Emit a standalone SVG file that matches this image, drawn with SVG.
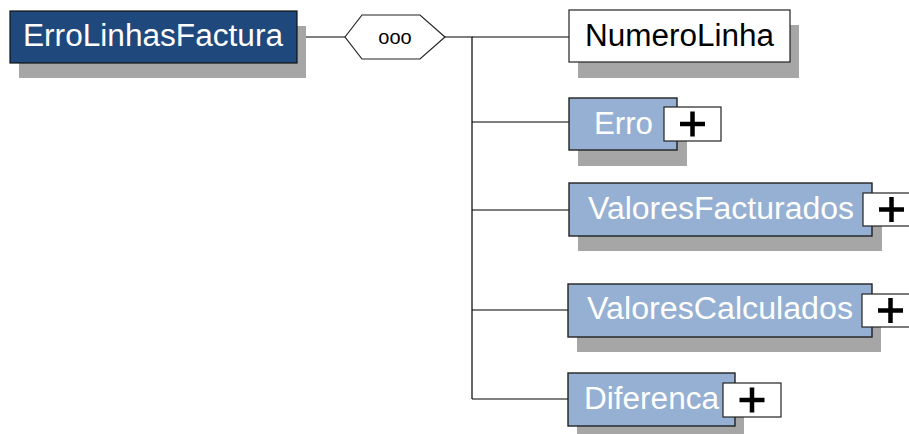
<svg xmlns="http://www.w3.org/2000/svg" width="909" height="434" viewBox="0 0 909 434">
<style>
.shadow{fill:#a6a6a6}
.root{fill:#1f487c;stroke:#111;stroke-width:1.2}
.opt{fill:#fff;stroke:#222;stroke-width:1.2}
.cx{fill:#95b0d2;stroke:#222;stroke-width:1.4}
.plusbox{fill:#fff;stroke:#222;stroke-width:1.2}
.plus{stroke:#000;stroke-width:4.5;fill:none}
.lbl{font-family:"Liberation Sans",Arial,sans-serif;font-size:31px}
.w{fill:#fff}
.k{fill:#000}
.conn{stroke:#000;stroke-width:1.2;fill:none}
</style>
<g id="connectors">
<path class="conn" d="M297 37H345"/>
<path class="conn" d="M445 37H472V399"/>
<path class="conn" d="M472 37H569"/>
<path class="conn" d="M472 122H569"/>
<path class="conn" d="M472 210H569"/>
<path class="conn" d="M472 310H568"/>
<path class="conn" d="M472 399H568"/>
</g>
<g id="ErroLinhasFactura">
<rect class="shadow" x="19" y="26" width="287" height="52"/>
<rect class="root" x="10" y="11" width="287" height="52"/>
<text class="lbl w" x="23" y="46" textLength="260" lengthAdjust="spacingAndGlyphs">ErroLinhasFactura</text>
</g>
<g id="sequence">
<polygon class="opt" points="345,37 362,15 420,15 445,37 420,59 362,59"/>
<text x="395" y="44" text-anchor="middle" font-family="Liberation Sans,Arial,sans-serif" font-size="20">ooo</text>
</g>
<g id="NumeroLinha">
<rect class="shadow" x="578" y="25" width="221" height="53"/>
<rect class="opt" x="569" y="10" width="221" height="52"/>
<text class="lbl k" x="585" y="46" textLength="189" lengthAdjust="spacingAndGlyphs">NumeroLinha</text>
</g>
<g id="Erro">
<rect class="shadow" x="578" y="114" width="109" height="52"/>
<rect class="cx" x="569" y="98" width="108" height="52"/>
<text class="lbl w" x="594" y="134" textLength="59" lengthAdjust="spacingAndGlyphs">Erro</text>
<rect class="plusbox" x="664" y="107" width="57" height="34"/>
<path class="plus" d="M680 124H705M692.5 111.5V136.5"/>
</g>
<g id="ValoresFacturados">
<rect class="shadow" x="578" y="198" width="304" height="53"/>
<rect class="cx" x="569" y="183" width="303" height="53"/>
<text class="lbl w" x="588" y="219" textLength="266" lengthAdjust="spacingAndGlyphs">ValoresFacturados</text>
<rect class="plusbox" x="863" y="193" width="57" height="33"/>
<path class="plus" d="M879 209.5H904M891.5 197V222"/>
</g>
<g id="ValoresCalculados">
<rect class="shadow" x="577" y="299" width="304" height="53"/>
<rect class="cx" x="568" y="284" width="304" height="53"/>
<text class="lbl w" x="587" y="319" textLength="266" lengthAdjust="spacingAndGlyphs">ValoresCalculados</text>
<rect class="plusbox" x="862" y="294" width="57" height="33"/>
<path class="plus" d="M878 310.5H903M890.5 298V323"/>
</g>
<g id="Diferenca">
<rect class="shadow" x="577" y="388" width="167" height="53"/>
<rect class="cx" x="568" y="373" width="167" height="53"/>
<text class="lbl w" x="584" y="409" textLength="135" lengthAdjust="spacingAndGlyphs">Diferenca</text>
<rect class="plusbox" x="723" y="383" width="58" height="34"/>
<path class="plus" d="M739.5 400H764.5M752 387.5V412.5"/>
</g>
</svg>
